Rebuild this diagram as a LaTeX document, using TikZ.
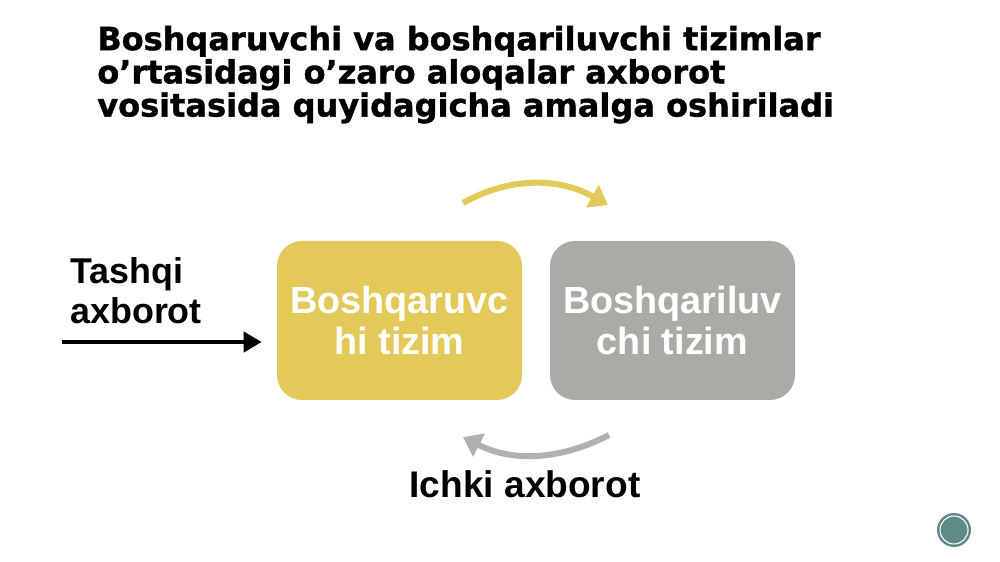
\documentclass[tikz,border=0pt]{standalone}
\usepackage{fontspec}
\setmainfont{Liberation Sans}
\newfontfamily\titlefont[FakeBold=1.2]{DejaVu Sans Bold}
\usepackage{tikz}
\usetikzlibrary{arrows.meta}
\usetikzlibrary{calc}
\usetikzlibrary{positioning}
\definecolor{boxyellow}{HTML}{E2C95A}
\definecolor{boxgray}{HTML}{ABABA6}
\definecolor{arrgray}{HTML}{B0B0AE}
\definecolor{pagecirc}{HTML}{5E8B88}

\begin{document}
\begin{tikzpicture}[
    sysbox/.style={rounded corners=0.5cm, minimum width=4.9cm, minimum height=3.18cm,
        inner sep=0, text=white, align=center,
        font=\fontsize{21.5}{23.2}\selectfont\bfseries},
    bigtext/.style={inner sep=0, font=\fontsize{20.4}{22.7}\selectfont\bfseries},
    bendarrow/.style={line width=0.12cm, -{Triangle[length=0.36cm, width=0.5cm]}}
  ]
    \useasboundingbox (0, 0) rectangle (20, 11.24);
    \fill[white] (0, 0) rectangle (20, 11.24);

    % title
    \node[anchor=north west, inner sep=0, align=left,
          font=\titlefont\fontsize{18.2}{18.9}\selectfont] (title) at (1.94, 10.73)
      {Boshqaruvchi va boshqariluvchi tizimlar\\
       o’rtasidagi o’zaro aloqalar axborot\\
       vositasida quyidagicha amalga oshiriladi};

    % the two systems
    \node[sysbox, fill=boxyellow] (ctrl) at (7.99, 4.83) {Boshqaruvc\\hi tizim};
    \node[sysbox, fill=boxgray]   (ctrld) at (13.45, 4.83) {Boshqariluv\\chi tizim};

    % outer information
    \node[bigtext, anchor=north west, align=left] (outer) at (1.4, 6.1) {Tashqi\\axborot};
    \coordinate (outsrc) at (1.24, 4.4);
    \draw[line width=0.085cm, -{Triangle[length=0.36cm, width=0.4cm]}, shorten >=0.3cm]
        (outsrc) -- (outsrc -| ctrl.west);

    % feedback arcs
    \coordinate (fwdA) at (9.26, 7.18);
    \coordinate (fwdB) at (12.16, 7.14);
    \draw[bendarrow, boxyellow] (fwdA) .. controls (10.22, 7.72) and (11.2, 7.68) .. (fwdB);

    \coordinate (backA) at (12.18, 2.54);
    \coordinate (backB) at (9.26, 2.5);
    \draw[bendarrow, arrgray] (backA) .. controls (11.2, 2.03) and (10.24, 2.0) .. (backB);

    \node[bigtext, anchor=base, font=\fontsize{21.1}{24}\selectfont\bfseries] (inner) at (10.5, 1.28) {Ichki axborot};

    % page mark
    \node[circle, fill=pagecirc, minimum size=0.68cm, inner sep=0] (pg) at (19.08, 0.64) {};
    \draw[white, line width=0.6pt] (pg.center) circle (0.28);
\end{tikzpicture}
\end{document}
